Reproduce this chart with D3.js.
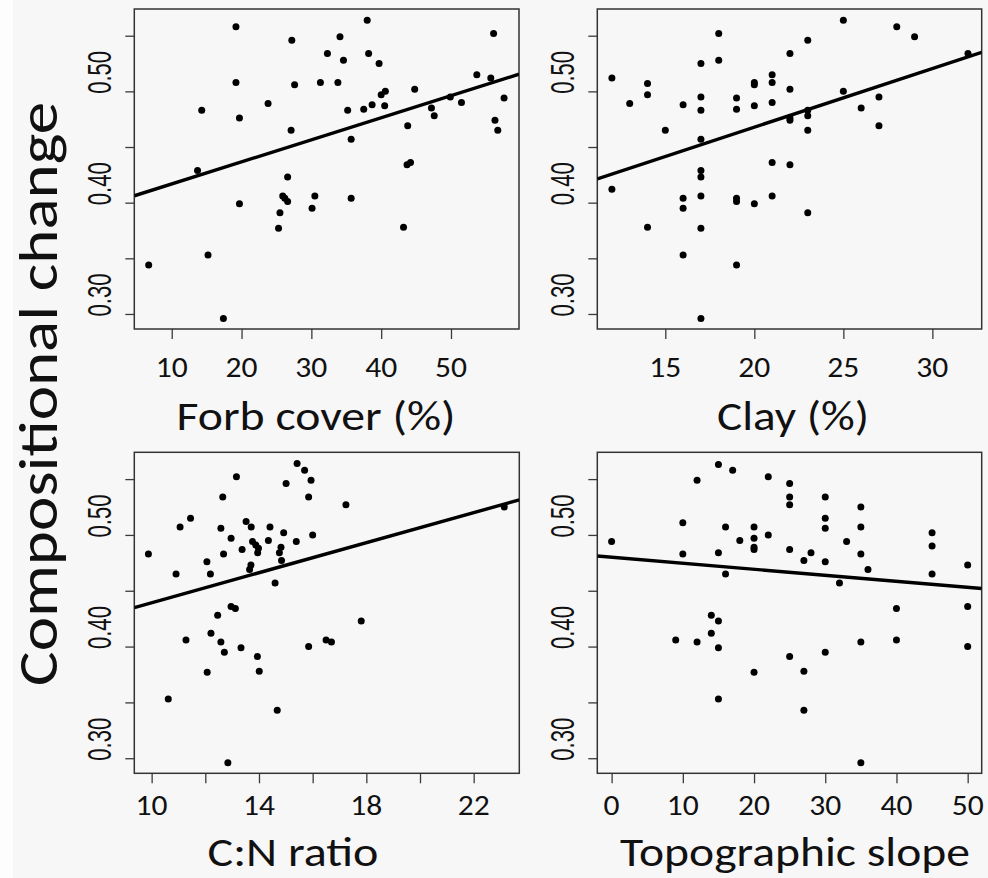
<!DOCTYPE html>
<html><head><meta charset="utf-8">
<script src="https://cdn.jsdelivr.net/npm/d3@7/dist/d3.min.js"></script>
<style>html,body{margin:0;padding:0;background:#f8f7f8;}svg{display:block}</style>
</head><body>
<svg id="chart" width="988" height="878"></svg>
<script>
// ---------------- data ----------------
const yTitle = "Compositional change";
const yTicks = [0.30, 0.35, 0.40, 0.45, 0.50, 0.55];
const yTickLabels = [0.30, 0.40, 0.50];

const forbX = [6.7,19.2,19.2,14.3,13.7,19.7,19.7,15.2,17.4,23.8,27.2,27.6,27.1,26.6,25.9,26.2,26.6,25.5,25.3,31.3,32.3,30.5,30.1,34.1,34.6,33.8,35.2,35.7,35.7,38.0,38.2,39.7,37.5,38.7,40.0,40.6,40.5,44.8,43.8,43.7,44.2,43.2,47.2,47.6,49.9,51.5,53.7,55.7,56.1,56.3,56.7,57.6];
const forbY = [0.344,0.558,0.508,0.483,0.429,0.476,0.399,0.353,0.296,0.489,0.546,0.506,0.465,0.423,0.406,0.404,0.401,0.391,0.377,0.508,0.534,0.406,0.395,0.549,0.528,0.508,0.483,0.457,0.404,0.564,0.534,0.525,0.484,0.488,0.497,0.500,0.487,0.502,0.469,0.434,0.436,0.378,0.485,0.478,0.495,0.490,0.515,0.512,0.552,0.474,0.465,0.494];
const forbTicks = [10, 20, 30, 40, 50];
const forbTickLabels = [10, 20, 30, 40, 50];
const forbFit = [0.3970, 0.001982]; // intercept, slope

const clayX = [12,12,13,14,14,14,15,16,16,16,16,17,17,17,17,17,17,17,17,17,18,18,19,19,19,19,19,20,20,20,20,21,21,21,21,21,22,22,22,22,22,23,23,23,23,23,25,25,26,27,27,28,29,32];
const clayY = [0.512,0.412,0.489,0.507,0.497,0.378,0.465,0.488,0.404,0.395,0.353,0.525,0.495,0.483,0.457,0.429,0.423,0.406,0.377,0.296,0.552,0.528,0.494,0.484,0.404,0.401,0.344,0.508,0.506,0.487,0.399,0.515,0.508,0.490,0.436,0.406,0.534,0.502,0.476,0.474,0.434,0.546,0.483,0.478,0.465,0.391,0.564,0.500,0.485,0.495,0.469,0.558,0.549,0.534];
const clayTicks = [15, 20, 25, 30];
const clayTickLabels = [15, 20, 25, 30];
const clayFit = [0.3626, 0.005262];

const cnX = [9.88,10.62,10.91,11.06,11.28,11.45,12.06,12.19,12.07,12.21,12.46,12.58,12.65,12.68,12.58,12.71,12.84,12.96,12.96,13.12,13.16,13.33,13.37,13.52,13.71,13.76,13.70,13.65,13.88,13.98,13.95,13.94,14.01,14.35,14.41,14.60,14.68,14.76,14.82,14.84,14.92,15.01,15.39,15.42,15.70,15.85,15.94,15.85,16.00,16.50,16.70,17.24,17.81,23.14];
const cnY = [0.483,0.353,0.465,0.507,0.406,0.515,0.476,0.465,0.377,0.412,0.428,0.506,0.534,0.483,0.404,0.395,0.296,0.497,0.436,0.434,0.552,0.399,0.487,0.512,0.507,0.494,0.473,0.469,0.491,0.488,0.484,0.391,0.378,0.495,0.507,0.457,0.343,0.484,0.489,0.477,0.502,0.546,0.494,0.564,0.558,0.534,0.549,0.400,0.500,0.406,0.404,0.527,0.423,0.525];
const cnTicks = [10, 12, 14, 16, 18, 20, 22];
const cnTickLabels = [10, 14, 18, 22];
const cnFit = [0.3720, 0.006725];

const slopeX = [0,9,10,10,12,12,14,14,15,15,15,15,15,16,16,17,18,20,20,20,20,20,22,22,25,25,25,25,25,27,27,27,28,30,30,30,30,30,32,33,35,35,35,35,35,36,40,40,45,45,45,50,50,50];
const slopeY = [0.494,0.406,0.511,0.483,0.549,0.404,0.428,0.412,0.563,0.484,0.423,0.399,0.353,0.507,0.465,0.558,0.495,0.507,0.497,0.489,0.487,0.377,0.552,0.500,0.546,0.534,0.527,0.487,0.391,0.477,0.378,0.343,0.484,0.534,0.515,0.506,0.476,0.395,0.457,0.494,0.525,0.507,0.483,0.404,0.296,0.469,0.434,0.406,0.502,0.490,0.465,0.473,0.436,0.400];
const slopeTicks = [0, 10, 20, 30, 40, 50];
const slopeTickLabels = [0, 10, 20, 30, 40, 50];
const slopeFit = [0.4800, -0.000539];

const titles = ["Forb cover (%)", "Clay (%)", "C:N ratio", "Topographic slope"];

// ---------------- layout ----------------
const panels = [
  {x: forbX, y: forbY, ticks: forbTicks, labels: forbTickLabels, fit: forbFit, title: titles[0],
   box: [134.3, 9, 519, 329], xdom: [4.64, 59.74], titleX: 316, titleY: 430, titleLen: 279, tickBase: 377},
  {x: clayX, y: clayY, ticks: clayTicks, labels: clayTickLabels, fit: clayFit, title: titles[1],
   box: [597.3, 9, 981.7, 329], xdom: [11.18, 32.77], titleX: 793, titleY: 430, titleLen: 152, tickBase: 377},
  {x: cnX, y: cnY, ticks: cnTicks, labels: cnTickLabels, fit: cnFit, title: titles[2],
   box: [134.3, 452.3, 519.3, 773.3], xdom: [9.354, 23.70], titleX: 293, titleY: 866, titleLen: 171, tickBase: 815},
  {x: slopeX, y: slopeY, ticks: slopeTicks, labels: slopeTickLabels, fit: slopeFit, title: titles[3],
   box: [597.3, 452.3, 981.7, 773.3], xdom: [-2.01, 51.97], titleX: 795, titleY: 866, titleLen: 350, tickBase: 815}
];
const yDom = [0.2865, 0.574];
const labelFont = "Carlito, Calibri, Lato, 'Open Sans', sans-serif";

const svg = d3.select("#chart");
svg.append("rect").attr("width", 988).attr("height", 878).attr("fill", "#f8f7f8");
svg.append("rect").attr("width", 13).attr("height", 878).attr("fill", "#fdfdfd");

panels.forEach((p, i) => {
  const [x0, y0, x1, y1] = p.box;
  const xs = d3.scaleLinear().domain(p.xdom).range([x0, x1]);
  const ys = d3.scaleLinear().domain(yDom).range([y1, y0]);
  const g = svg.append("g");

  // ticks via axes
  const ax = g.append("g").attr("transform", `translate(0,${y1})`)
    .call(d3.axisBottom(xs).tickValues(p.ticks).tickSize(10).tickFormat(""));
  const ay = g.append("g").attr("transform", `translate(${x0},0)`)
    .call(d3.axisLeft(ys).tickValues(yTicks).tickSize(9).tickFormat(""));
  [ax, ay].forEach(a => {
    a.select(".domain").remove();
    a.selectAll("line").attr("stroke", "#3a3a3a").attr("stroke-width", 1.3);
  });

  // box
  g.append("rect").attr("x", x0).attr("y", y0).attr("width", x1 - x0).attr("height", y1 - y0)
    .attr("fill", "none").attr("stroke", "#333").attr("stroke-width", 1.5);

  // x tick labels
  g.selectAll(".xl").data(p.labels).enter().append("text")
    .attr("x", d => xs(d)).attr("y", p.tickBase)
    .attr("text-anchor", "middle")
    .attr("font-family", labelFont).attr("font-size", 28)
    .attr("textLength", d => String(d).length * 16).attr("lengthAdjust", "spacingAndGlyphs")
    .attr("fill", "#111").text(d => d);

  // y tick labels (rotated)
  g.selectAll(".yl").data(yTickLabels).enter().append("text")
    .attr("transform", d => `translate(${x0 - 23},${ys(d) - 19}) rotate(-90)`)
    .attr("text-anchor", "middle")
    .attr("font-family", "'Liberation Sans', Arial, sans-serif").attr("font-size", 33)
    .attr("textLength", 43).attr("lengthAdjust", "spacingAndGlyphs")
    .attr("fill", "#111").text(d => d.toFixed(2));

  // title
  g.append("text").attr("x", p.titleX).attr("y", p.titleY).attr("text-anchor", "middle")
    .attr("font-family", labelFont).attr("font-size", 41.5)
    .attr("textLength", p.titleLen).attr("lengthAdjust", "spacingAndGlyphs")
    .attr("fill", "#111").text(p.title);

  // clip for regression line
  const cid = "clip" + i;
  svg.append("clipPath").attr("id", cid).append("rect")
    .attr("x", x0).attr("y", y0).attr("width", x1 - x0).attr("height", y1 - y0);
  const fx = p.xdom;
  g.append("line").attr("clip-path", `url(#${cid})`)
    .attr("x1", xs(fx[0])).attr("y1", ys(p.fit[0] + p.fit[1] * fx[0]))
    .attr("x2", xs(fx[1])).attr("y2", ys(p.fit[0] + p.fit[1] * fx[1]))
    .attr("stroke", "#000").attr("stroke-width", 3.4);

  // points
  g.selectAll(".pt").data(p.x.map((v, k) => [v, p.y[k]])).enter().append("circle")
    .attr("cx", d => xs(d[0])).attr("cy", d => ys(d[1])).attr("r", 3.5).attr("fill", "#000");
});

// y-axis title
svg.append("text").attr("transform", "translate(57,394) rotate(-90)")
  .attr("text-anchor", "middle").attr("font-family", labelFont).attr("font-size", 56)
  .attr("textLength", 584).attr("lengthAdjust", "spacingAndGlyphs")
  .attr("fill", "#111").text(yTitle);
</script>
</body></html>
